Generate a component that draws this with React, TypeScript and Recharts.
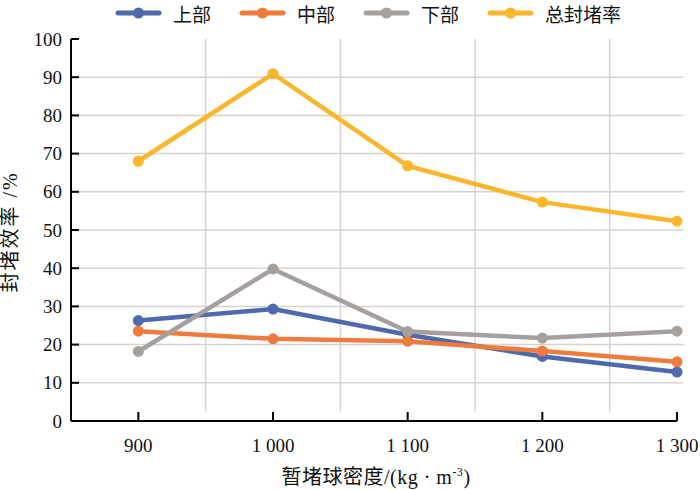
import {
  LineChart,
  Line,
  XAxis,
  YAxis,
  Legend,
  ReferenceLine,
  Label,
} from "recharts";

const density = [900, 1000, 1100, 1200, 1300];
const densityLabels = ["900", "1 000", "1 100", "1 200", "1 300"];
const upper = [26.3, 29.3, 22.6, 16.9, 12.8];
const middle = [23.5, 21.5, 20.9, 18.3, 15.5];
const lower = [18.2, 39.8, 23.4, 21.7, 23.5];
const total = [68, 90.9, 66.8, 57.3, 52.3];
const yTicks = [0, 10, 20, 30, 40, 50, 60, 70, 80, 90, 100];
const hGrid = [10, 20, 30, 40, 50, 60, 70, 80, 90];
const vGrid = [950, 1050, 1150, 1250];

const series = [
  { key: "upper", name: "上部", color: "#4e69ad" },
  { key: "middle", name: "中部", color: "#ee7b3b" },
  { key: "lower", name: "下部", color: "#a5a09e" },
  { key: "total", name: "总封堵率", color: "#fbb62e" },
];

const data = density.map((d, i) => ({
  density: d,
  upper: upper[i],
  middle: middle[i],
  lower: lower[i],
  total: total[i],
}));

const FONT = "Liberation Serif, Noto Sans CJK SC, serif";
const GRID = "#d9d1ce";

function LegendBox() {
  return (
    <div
      style={{
        display: "flex",
        alignItems: "center",
        paddingLeft: 115,
        fontFamily: FONT,
        fontSize: 19,
        color: "#111",
        height: 26,
      }}
    >
      {series.map((s) => (
        <div key={s.key} style={{ display: "flex", alignItems: "center", marginRight: 28 }}>
          <svg width={47} height={14} style={{ marginRight: 11 }}>
            <line x1={3} y1={7} x2={44} y2={7} stroke={s.color} strokeWidth={5} strokeLinecap="round" />
            <circle cx={23.5} cy={7} r={5.5} fill={s.color} />
          </svg>
          <span>{s.name}</span>
        </div>
      ))}
    </div>
  );
}

function YTick(props: any) {
  const { x, y, payload } = props;
  return (
    <g>
      <line x1={x + 9} y1={y} x2={x + 17} y2={y} stroke="#000" strokeWidth={2} />
      <text x={x} y={y} textAnchor="end" dominantBaseline="central" style={{ fontSize: 19, fontFamily: FONT }} fill="#111">
        {payload.value}
      </text>
    </g>
  );
}

function XTick(props: any) {
  const { x, y, payload } = props;
  const idx = density.indexOf(payload.value);
  return (
    <g>
      <line x1={x} y1={y} x2={x} y2={y - 9} stroke="#000" strokeWidth={2} />
      <text x={x} y={y + 31} textAnchor="middle" style={{ fontSize: 19, fontFamily: FONT }} fill="#111">
        {densityLabels[idx]}
      </text>
    </g>
  );
}

export default function App() {
  return (
    <div style={{ position: "absolute", left: 0, top: 0, width: 700, height: 490, background: "#fff", fontFamily: FONT }}>
      <LineChart width={700} height={490} data={data} margin={{ top: 13, right: 23, bottom: 0, left: 0 }}>
        {hGrid.map((v) => (
          <ReferenceLine
            key={`h${v}`}
            segment={[
              { x: 850, y: v },
              { x: 1305, y: v },
            ]}
            stroke={GRID}
            strokeWidth={1.5}
            ifOverflow="visible"
          />
        ))}
        {vGrid.map((v) => (
          <ReferenceLine
            key={`v${v}`}
            segment={[
              { x: v, y: 2.5 },
              { x: v, y: 100 },
            ]}
            stroke={GRID}
            strokeWidth={1.5}
          />
        ))}
        <XAxis
          dataKey="density"
          type="number"
          domain={[850, 1300]}
          ticks={density}
          height={69}
          tickSize={0}
          tickMargin={0}
          tickLine={false}
          axisLine={{ stroke: "#000", strokeWidth: 2 }}
          tick={<XTick />}
        >
          <Label
            content={(p: any) => {
              const vb = p.viewBox;
              return (
                <text
                  x={vb.x + vb.width / 2 + 2}
                  y={vb.y + 63}
                  textAnchor="middle"
                  style={{ fontSize: 20, fontFamily: FONT, letterSpacing: 0.5 }}
                  fill="#111"
                >
                  <tspan>暂堵球密度/(kg · m</tspan>
                  <tspan dy={-8} style={{ fontSize: 12 }}>-3</tspan>
                  <tspan dy={8}>)</tspan>
                </text>
              );
            }}
          />
        </XAxis>
        <YAxis
          type="number"
          domain={[0, 100]}
          ticks={yTicks}
          width={71}
          tickSize={0}
          tickMargin={9}
          tickLine={false}
          axisLine={{ stroke: "#000", strokeWidth: 2 }}
          tick={<YTick />}
          interval={0}
        >
          <Label
            content={(p: any) => {
              const vb = p.viewBox;
              const cx = 10;
              const cy = vb.y + vb.height / 2 + 2;
              return (
                <text
                  x={cx}
                  y={cy}
                  transform={`rotate(-90 ${cx} ${cy})`}
                  textAnchor="middle"
                  dominantBaseline="central"
                  style={{ fontSize: 20, fontFamily: FONT, letterSpacing: 2 }}
                  fill="#111"
                >
                  封堵效率 /%
                </text>
              );
            }}
          />
        </YAxis>
        <Legend
          verticalAlign="top"
          content={() => <LegendBox />}
          wrapperStyle={{ top: 0, left: 0, width: 700 }}
        />
        {series.map((s) => (
          <Line
            key={s.key}
            type="linear"
            dataKey={s.key}
            name={s.name}
            stroke={s.color}
            strokeWidth={4.5}
            dot={{ r: 5.5, fill: s.color, stroke: s.color, strokeWidth: 0 }}
            activeDot={false}
            isAnimationActive={false}
          />
        ))}
      </LineChart>
    </div>
  );
}
